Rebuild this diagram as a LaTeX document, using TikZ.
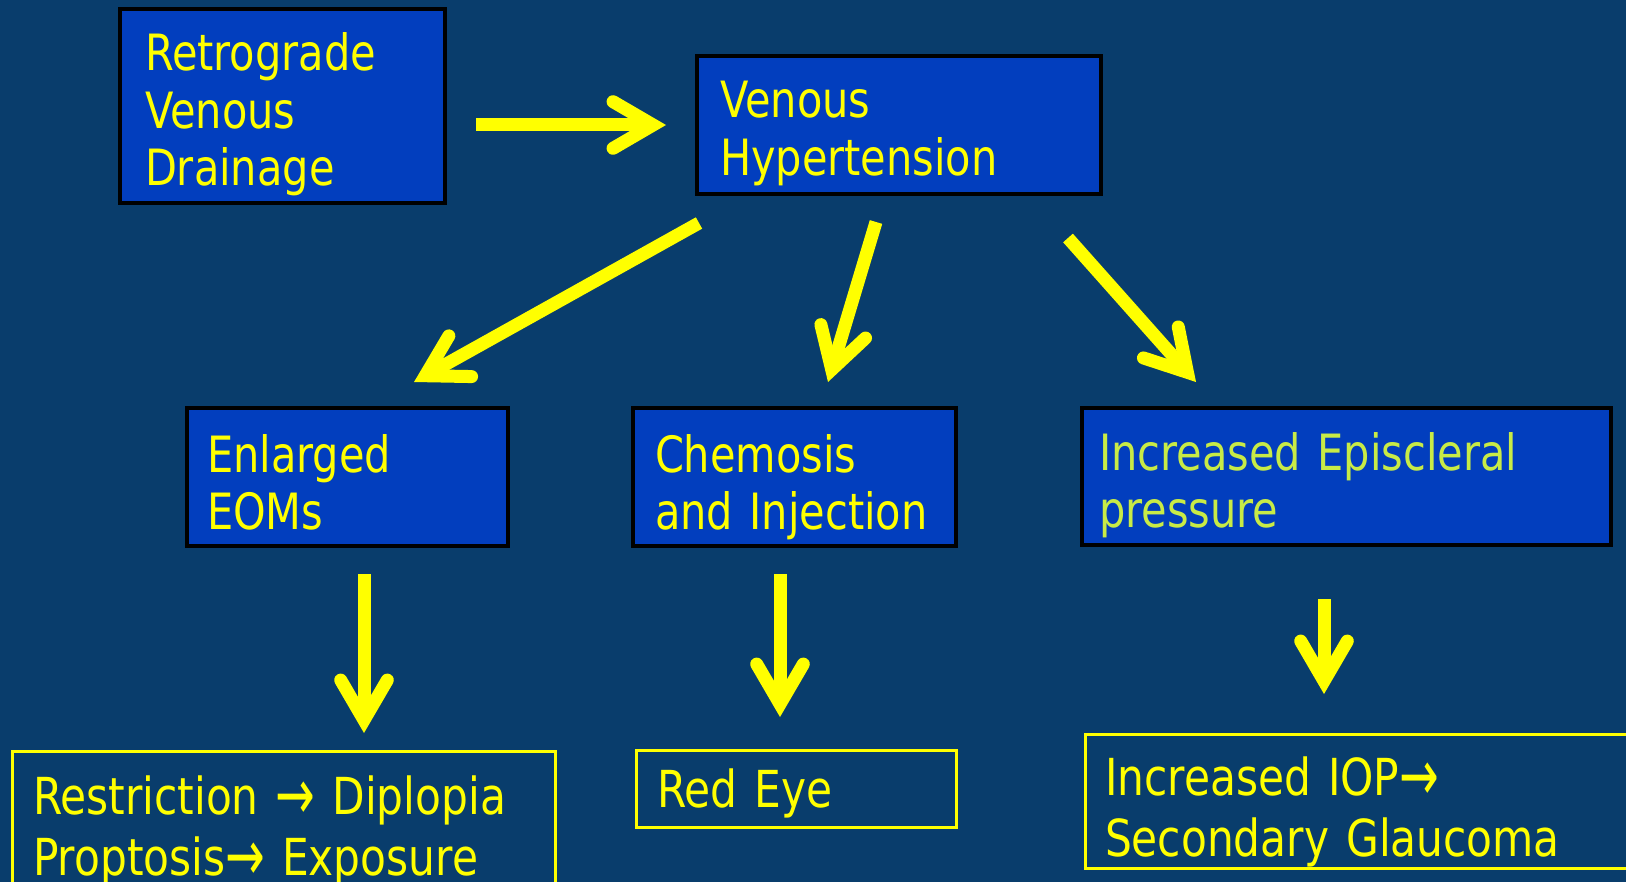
\documentclass[tikz,border=0pt]{standalone}
\usepackage{fontspec}
\usepackage{graphicx}
\setmainfont{DejaVu Sans}[FakeStretch=0.83]
\usetikzlibrary{arrows.meta,calc}
\definecolor{bgblue}{RGB}{9,61,108}
\definecolor{boxblue}{RGB}{2,62,190}
\definecolor{ytext}{RGB}{255,255,0}
\definecolor{gtext}{RGB}{200,235,70}
\newcommand\txtarrow{\raisebox{-2.5pt}{\scalebox{1.12}[1.4]{→}}}
\begin{document}
\begin{tikzpicture}[x=0.5pt,y=-0.5pt,
  every node/.style={inner ysep=0pt, outer sep=0pt, align=left, anchor=north west, text=ytext,
    font=\fontsize{25pt}{28.75pt}\selectfont,
    execute at begin node={\hyphenpenalty=10000\exhyphenpenalty=10000}},
  bluebox/.style={draw=black, line width=2.2pt, fill=boxblue},
  ybox/.style={draw=ytext, line width=1.5pt, font=\fontsize{25.5pt}{30.75pt}\selectfont},
  yarrow/.style={draw=ytext, line width=6.5pt,
    -{Straight Barb[length=20pt,width=23.3pt,line cap=round,line join=miter]}}
]
\useasboundingbox (0,0) rectangle (1626,882);
\fill[bgblue] (0,0) rectangle (1626,882);
\clip (0,0) rectangle (1626,882);

\node[bluebox, inner xsep=12.5pt, text width=137.5pt, text height=31pt, text depth=66pt]
  (A) at (120,9) {Retrograde\\Venous\\Drainage};
\node[bluebox, inner xsep=11.5pt, text width=179pt, text height=31pt, text depth=38pt]
  (B) at (697,56) {Venous\\Hypertension};
\node[bluebox, inner xsep=10pt, text width=140.5pt, text height=32pt, text depth=37pt]
  (C) at (187,408) {Enlarged\\EOMs};
\node[bluebox, inner xsep=11pt, text width=139.5pt, text height=32pt, text depth=37pt]
  (D) at (633,408) {Chemosis\\and~Injection};
\node[bluebox, text=gtext, inner xsep=8.5pt, text width=247.5pt, text height=31pt, text depth=37.5pt]
  (E) at (1082,408) {Increased~Episcleral\\pressure};

\node[ybox, inner xsep=10.25pt, text width=251pt, text height=31.5pt, text depth=43pt]
  (F) at (12.5,751) {Restriction~\txtarrow~Diplopia\\Proptosis\txtarrow~Exposure};
\node[ybox, inner xsep=10.5pt, text width=139pt, text height=28.5pt, text depth=10pt]
  (G) at (636,750) {Red~Eye};
\node[ybox, inner xsep=10pt, text width=257.5pt, text height=30.5pt, text depth=36.5pt]
  (H) at (1085,734) {Increased~IOP\txtarrow\\Secondary~Glaucoma};

\draw[yarrow] ($(A.east)+(31,19)$) -- ($(B.west)+(-31,0)$);
\draw[yarrow] ($(B.south west)+(2,29)$) -- ($(C.north)+(66.5,-26)$);
\draw[yarrow] ($(B.south)+(-23,28)$) -- ($(D.north)+(33.5,-26)$);
\draw[yarrow] ($(B.south east)+(-33,44)$) -- ($(E.north west)+(114,-26)$);
\draw[yarrow] ($(C.south)+(16.5,28)$) -- ($(F.north west)+(351.5,-18)$);
\draw[yarrow] ($(D.south)+(-14.5,28)$) -- ($(G.north)+(-16,-33)$);
\draw[yarrow] ($(E.south)+(-22.5,54)$) -- ($(H.north west)+(239,-40)$);
\end{tikzpicture}
\end{document}
